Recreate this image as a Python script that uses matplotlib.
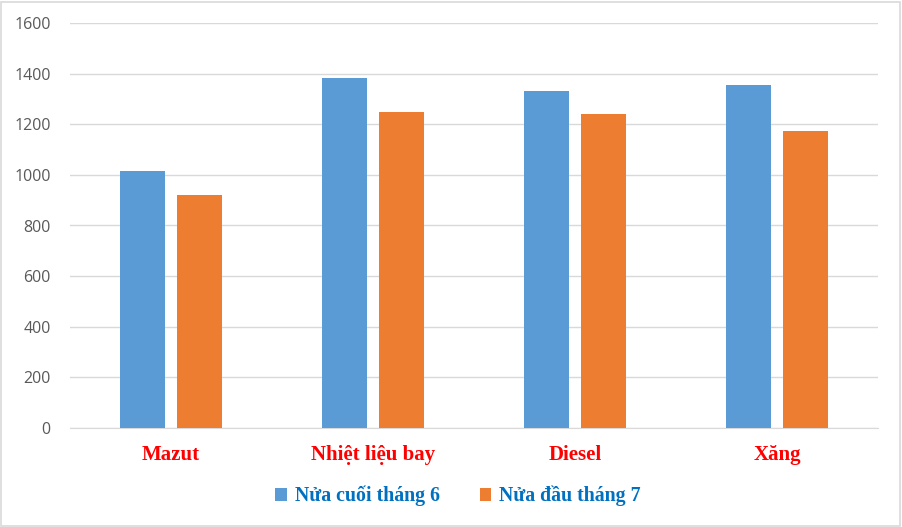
import matplotlib
matplotlib.use("Agg")
import matplotlib.pyplot as plt
from matplotlib.patches import Rectangle
import numpy as np

categories = ["Mazut", "Nhiệt liệu bay", "Diesel", "Xăng"]
series_names = ["Nửa cuối tháng 6", "Nửa đầu tháng 7"]
cuoi_thang_6 = [1015, 1383, 1331, 1355]
dau_thang_7 = [920, 1248, 1240, 1173]
yticks = [0, 200, 400, 600, 800, 1000, 1200, 1400, 1600]

BLUE = "#5B9BD5"
ORANGE = "#ED7D31"

fig = plt.figure(figsize=(9.02, 5.27), dpi=100)
fig.patches.append(Rectangle((0.001, 0.002), 0.997, 0.995, transform=fig.transFigure,
                             fill=False, edgecolor="#D9D9D9", lw=1.2))
ax = fig.add_axes([70 / 902, 99 / 527, 808 / 902, 405 / 527])

x = np.arange(len(categories))
w = 0.223
gap = 0.06
ax.bar(x - (w + gap) / 2, cuoi_thang_6, w, color=BLUE, label=series_names[0], zorder=3)
ax.bar(x + (w + gap) / 2, dau_thang_7, w, color=ORANGE, label=series_names[1], zorder=3)

ax.set_xlim(-0.5, len(categories) - 0.5)
ax.set_ylim(0, 1600)
ax.set_yticks(yticks)
ax.set_yticklabels([str(v) for v in yticks], fontsize=11.5, color="#595959",
                   family=["Open Sans", "DejaVu Sans"])
ax.yaxis.grid(True, color="#D9D9D9", lw=1, zorder=0)
ax.tick_params(axis="y", length=0, pad=14)
ax.tick_params(axis="x", length=0, pad=12)
ax.set_xticks(x)
ax.set_xticklabels(categories, fontsize=15, fontweight="bold", color="#FF0000",
                   family="Liberation Serif")
for s in ["top", "right", "left"]:
    ax.spines[s].set_visible(False)
ax.spines["bottom"].set_color("#D9D9D9")

leg = fig.legend(loc="center", bbox_to_anchor=(458 / 902, 1 - 496 / 527), ncol=2,
                 frameon=False, handlelength=0.6, handleheight=0.6, handletextpad=0.4,
                 columnspacing=2.0,
                 prop={"family": "Liberation Serif", "weight": "bold", "size": 14.3})
for t in leg.get_texts():
    t.set_color("#0070C0")

plt.savefig("out.png", dpi=100)
